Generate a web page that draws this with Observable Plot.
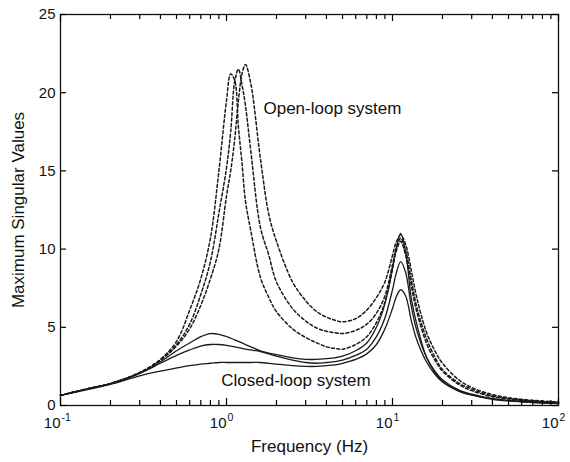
<!DOCTYPE html>
<html><head><meta charset="utf-8">
<script src="https://cdn.jsdelivr.net/npm/d3@7"></script>
<script src="https://cdn.jsdelivr.net/npm/@observablehq/plot@0.6"></script>
<style>body{margin:0;background:#fff}</style>
</head><body><div id="chart"></div><script>
// Frequency grid (Hz)
const freq = [0.1, 0.15, 0.2, 0.3, 0.4, 0.5, 0.6, 0.7, 0.8, 0.9, 1.0, 1.06, 1.12, 1.18, 1.24, 1.3, 1.4, 1.6, 1.8, 2.0, 2.5, 3, 3.5, 4, 4.5, 5, 6, 7, 8, 9, 10, 10.5, 11.2, 12, 13, 14, 16, 18, 20, 25, 30, 40, 50, 70, 100];

// Open-loop system (dashed)
const openA = [0.65, 1.1, 1.4, 2.1, 2.95, 4.1, 6.1, 8.1, 10.7, 15.0, 19.5, 21.2, 20.8, 17.8, 15.5, 13.1, 11.2, 8.2, 6.9, 6.0, 4.9, 4.35, 4.0, 3.75, 3.65, 3.6, 3.9, 4.4, 5.3, 6.6, 8.7, 9.8, 10.5, 9.6, 7.6, 6.0, 4.0, 2.9, 2.2, 1.35, 0.95, 0.56, 0.42, 0.28, 0.18];
const openB = [0.65, 1.1, 1.4, 2.1, 2.9, 3.9, 5.2, 7.1, 9.2, 12.3, 15.2, 17.5, 20.7, 21.5, 20.5, 19.2, 16.3, 11.4, 9.6, 7.9, 6.2, 5.4, 4.95, 4.75, 4.65, 4.6, 4.8, 5.2, 5.9, 7.0, 9.0, 10.0, 10.7, 9.9, 8.0, 6.3, 4.3, 3.1, 2.3, 1.45, 1.05, 0.62, 0.45, 0.3, 0.2];
const openC = [0.65, 1.1, 1.4, 2.1, 2.9, 3.8, 4.9, 6.4, 8.1, 10.0, 13.4, 15.0, 17.0, 19.5, 21.2, 21.8, 20.6, 15.8, 12.2, 10.5, 7.9, 6.7, 6.0, 5.65, 5.45, 5.35, 5.55, 6.1, 6.9, 7.9, 9.6, 10.4, 10.9, 10.3, 8.6, 6.9, 4.7, 3.5, 2.7, 1.65, 1.15, 0.7, 0.5, 0.33, 0.22];

// Closed-loop system (solid)
const closedD = [0.65, 1.1, 1.4, 2.05, 2.8, 3.5, 4.0, 4.4, 4.6, 4.55, 4.4, 4.3, 4.2, 4.1, 4.0, 3.9, 3.75, 3.5, 3.35, 3.25, 3.05, 2.95, 2.95, 3.0, 3.05, 3.15, 3.5, 4.0, 5.0, 6.5, 8.8, 10.0, 11.0, 9.8, 6.8, 5.2, 3.1, 2.1, 1.55, 0.95, 0.7, 0.42, 0.32, 0.22, 0.14];
const closedE = [0.65, 1.1, 1.4, 2.05, 2.7, 3.2, 3.55, 3.8, 3.9, 3.9, 3.85, 3.8, 3.75, 3.7, 3.65, 3.6, 3.55, 3.45, 3.3, 3.15, 2.9, 2.75, 2.7, 2.75, 2.8, 2.9, 3.2, 3.6, 4.4, 5.6, 7.4, 8.4, 9.2, 8.5, 6.3, 4.8, 3.1, 2.2, 1.65, 1.0, 0.72, 0.44, 0.31, 0.2, 0.13];
const closedF = [0.65, 1.05, 1.35, 1.9, 2.2, 2.4, 2.55, 2.65, 2.7, 2.75, 2.75, 2.75, 2.75, 2.75, 2.75, 2.75, 2.75, 2.75, 2.7, 2.65, 2.55, 2.5, 2.5, 2.55, 2.6, 2.7, 2.95, 3.3, 3.9, 4.9, 6.2, 6.9, 7.4, 7.0, 5.4, 4.2, 2.8, 2.0, 1.5, 0.92, 0.66, 0.4, 0.29, 0.19, 0.12];

const xTicks = [0.1, 1, 10, 100];
const xTickBase = ["10", "10", "10", "10"];
const xTickExp = ["-1", "0", "1", "2"];
const xMinor = [0.2,0.3,0.4,0.5,0.6,0.7,0.8,0.9,2,3,4,5,6,7,8,9,20,30,40,50,60,70,80,90];
const yTicks = [0, 5, 10, 15, 20, 25];

const labels = [
  {text: "Open-loop system", f: 1.67, v: 19.0},
  {text: "Closed-loop system", f: 0.93, v: 1.6}
];

const series = [
  {id: "A", kind: "open", values: openA},
  {id: "B", kind: "open", values: openB},
  {id: "C", kind: "open", values: openC},
  {id: "D", kind: "closed", values: closedD},
  {id: "E", kind: "closed", values: closedE},
  {id: "F", kind: "closed", values: closedF}
];
const rows = series.flatMap(s => freq.map((f, i) => ({f, v: s.values[i], id: s.id, kind: s.kind})));

const FONT = "'Liberation Sans', Arial, Helvetica, sans-serif";
const W = 570, H = 462, ML = 60, MR = 12, MT = 14, MB = 57;
const PW = W - ML - MR, PH = H - MT - MB;
const tk = {stroke: "#000", strokeWidth: 1.2};

const chart = Plot.plot({
  width: W, height: H,
  marginLeft: ML, marginRight: MR, marginTop: MT, marginBottom: MB,
  x: {type: "log", domain: [0.1, 100], label: null, axis: null},
  y: {domain: [0, 25], label: null, axis: null},
  style: {fontFamily: FONT, fontSize: "15px", color: "#111", background: "#fff"},
  marks: [
    Plot.line(rows.filter(d => d.kind === "closed"), {x: "f", y: "v", z: "id", stroke: "#1a1a1a", strokeWidth: 1.3, curve: "catmull-rom"}),
    Plot.line(rows.filter(d => d.kind === "open"), {x: "f", y: "v", z: "id", stroke: "#1a1a1a", strokeWidth: 1.5, strokeDasharray: "3,2.4", curve: "catmull-rom"}),
    Plot.frame({stroke: "#111", strokeWidth: 1.3}),
    // inward ticks on all four sides
    Plot.ruleX(xTicks, {x: d => d, insetTop: PH - 7, ...tk}),
    Plot.ruleX(xMinor, {x: d => d, insetTop: PH - 5, ...tk}),
    Plot.ruleX(xTicks, {x: d => d, insetBottom: PH - 7, ...tk}),
    Plot.ruleX(xMinor, {x: d => d, insetBottom: PH - 5, ...tk}),
    Plot.ruleY(yTicks, {y: d => d, insetRight: PW - 6, ...tk}),
    Plot.ruleY(yTicks, {y: d => d, insetLeft: PW - 6, ...tk}),
    Plot.text(yTicks, {y: d => d, text: d => String(d), frameAnchor: "left", textAnchor: "end", dx: -5, fontSize: 15}),
    Plot.text(xTicks, {x: d => d, text: (d, i) => xTickBase[i], frameAnchor: "bottom", textAnchor: "end", dy: 22, fontSize: 15}),
    Plot.text(xTicks, {x: d => d, text: (d, i) => xTickExp[i], frameAnchor: "bottom", textAnchor: "start", dx: 1, dy: 15, fontSize: 10.5}),
    Plot.text(["Frequency (Hz)"], {frameAnchor: "bottom", text: d => d, textAnchor: "middle", dy: 46, fontSize: 17}),
    Plot.text(["Maximum Singular Values"], {frameAnchor: "left", text: d => d, textAnchor: "middle", rotate: -90, dx: -42, fontSize: 17}),
    Plot.text(labels, {x: "f", y: "v", text: "text", textAnchor: "start", fontSize: 17})
  ]
});
document.getElementById("chart").appendChild(chart);
</script></body></html>
